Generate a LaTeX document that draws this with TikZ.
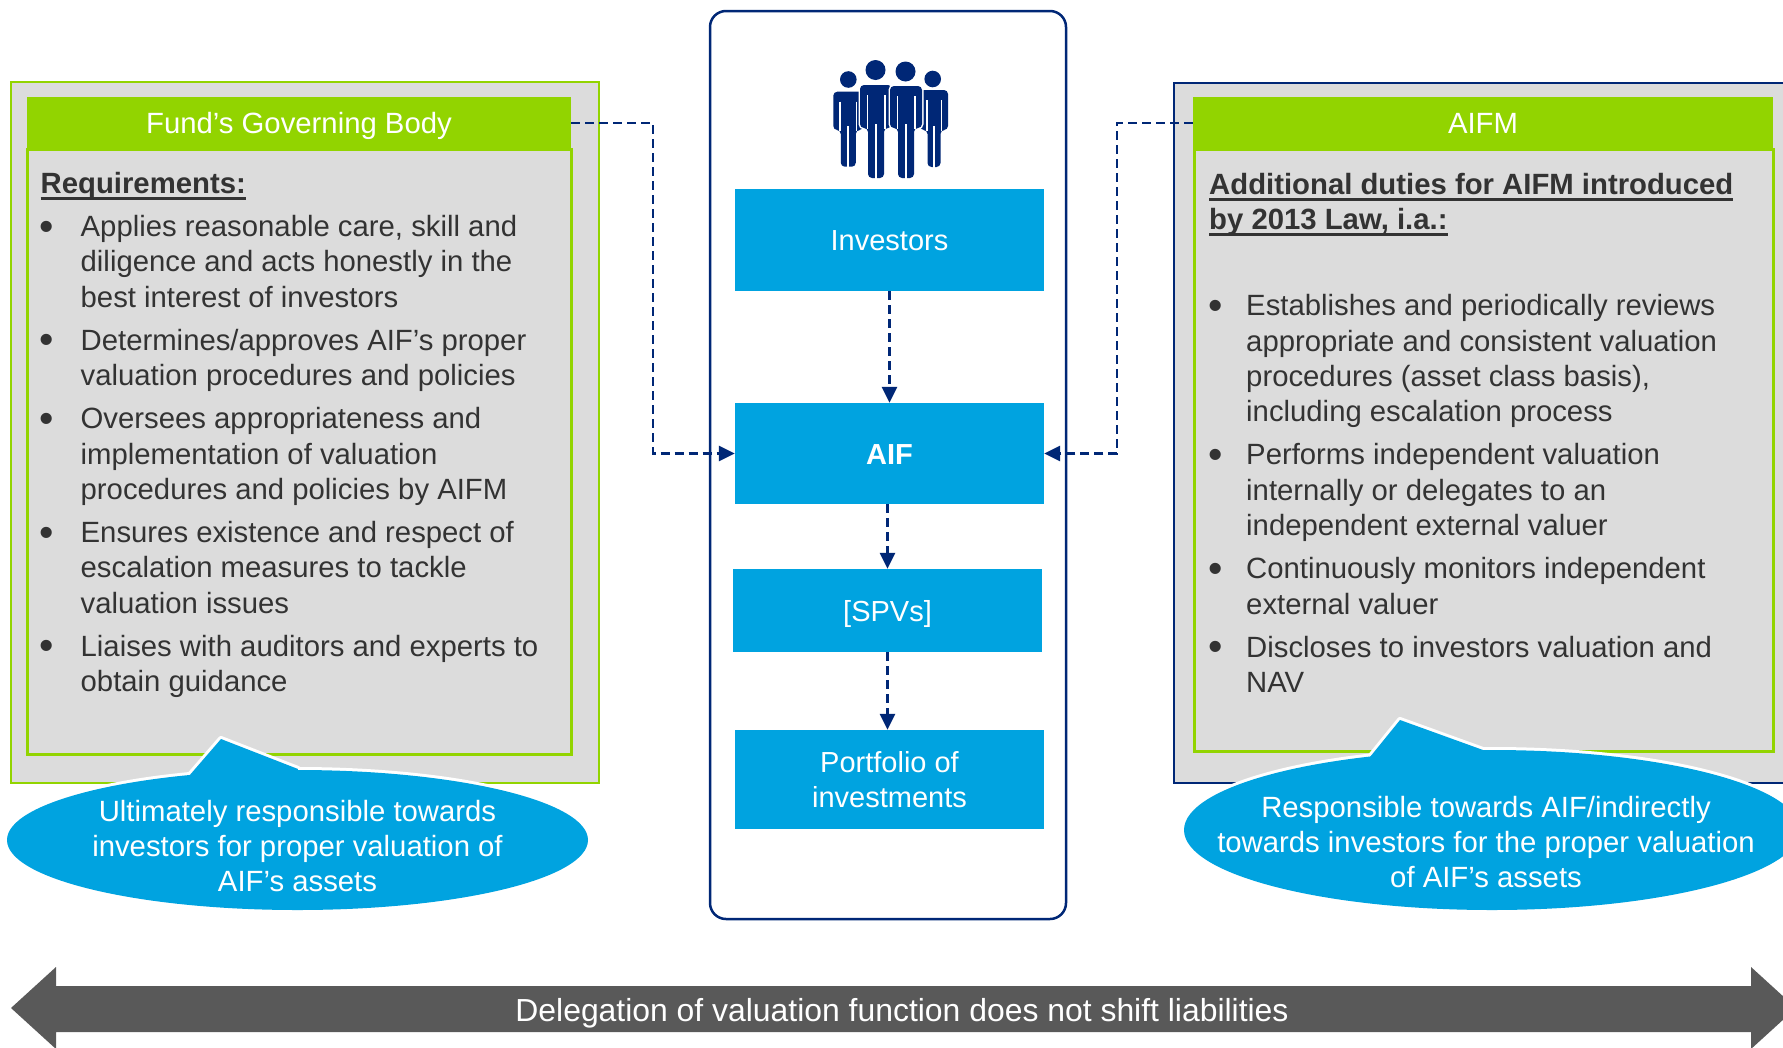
\documentclass[tikz,border=0pt]{standalone}
\usepackage{fontspec}
\setmainfont{Liberation Sans}
\usetikzlibrary{arrows.meta}
\definecolor{lgreen}{HTML}{92D400}
\definecolor{cblue}{HTML}{00A3E0}
\definecolor{navy}{HTML}{002776}
\definecolor{boxgrey}{HTML}{DCDCDC}
\definecolor{txtgrey}{HTML}{333333}
\definecolor{arrgrey}{HTML}{595959}
\newcommand\ulx[1]{\setbox0\hbox{#1}\rlap{\rule[-6pt]{\wd0}{2.6pt}}\box0}
\newcommand\bigbullet{\hspace*{-1pt}\raisebox{-3.5pt}{\scalebox{1.4}{\textbullet}}}
\newcommand\litem[1]{\par\hangindent=40pt\hangafter=1\noindent\makebox[40pt][l]{\bigbullet}#1\par}
\newcommand\ritem[1]{\par\hangindent=37pt\hangafter=1\noindent\makebox[37pt][l]{\bigbullet}#1\par}
\newcommand\personpath[7]{({#1-#3/2},{#6}) -- ({#1-#3/2},{#2}) -- ({#1+#3/2},{#2}) -- ({#1+#3/2},{#6}) -- ({#1+#3/2-#4-#5},{#6}) -- ({#1+#3/2-#4-#5},{#7}) -- ({#1-#3/2+#4+#5},{#7}) -- ({#1-#3/2+#4+#5},{#6}) -- cycle}
\newcommand\persongaps[7]{%
  \draw[white, line width=#5] ({#1-#3/2+#4+#5/2},{#2+10}) -- ({#1-#3/2+#4+#5/2},{#6+0.5});
  \draw[white, line width=#5] ({#1+#3/2-#4-#5/2},{#2+10}) -- ({#1+#3/2-#4-#5/2},{#6+0.5});
  \draw[white, line width=1.8] (#1,{#6-4}) -- (#1,{#7+0.5});}
\tikzset{
  bodytext/.style={anchor=base west, inner sep=0, text=txtgrey},
  header/.style={fill=lgreen, minimum height=52, inner sep=0, text=white,
    font=\fontsize{29.3}{35}\selectfont, text height=20.6pt, text depth=0pt},
  cboxbase/.style={fill=cblue, text=white, inner sep=0, minimum width=309,
    font=\fontsize{29}{35}\selectfont},
  cbox/.style={cboxbase, text height=21pt, text depth=0pt},
  conn/.style={navy, line width=2.6, dash pattern=on 9pt off 5pt,
    -{Triangle[length=16pt,width=15pt]}},
  callw/.style={white, line width=6, line join=round},
  callf/.style={fill=cblue},
  calltext/.style={anchor=base, inner sep=0, text=white},
}
\begin{document}
\begin{tikzpicture}[x=1pt,y=-1pt]
\useasboundingbox (0,0) rectangle (1783,1047);
\clip (0,0) rectangle (1783,1047);

% outer boxes
\draw[lgreen, line width=2, fill=boxgrey] (11,82) rectangle (599,783);
\draw[navy, line width=2.5, fill=boxgrey] (1174,83) rectangle (1810,783);
% inner boxes
\draw[lgreen, line width=3, fill=boxgrey] (27,149) rectangle (571,754);
\draw[lgreen, line width=3, fill=boxgrey] (1194,149) rectangle (1773,751);
% headers
\node[header, minimum width=544] (lhead) at (299,123) {Fund’s Governing Body};
\node[header, minimum width=580] (rhead) at (1483,123) {AIFM};

% centre frame
\draw[navy, line width=2.5, rounded corners=16, fill=white] (710,11) rectangle (1066,919);

% people icon
\fill[navy] (848.3,79.5) circle (8.3);
\fill[navy, rounded corners=4] \personpath{848.3}{91.7}{30}{6}{1.5}{130}{166.7};
\persongaps{848.3}{91.7}{30}{6}{1.5}{130}{166.7}
\fill[navy] (932.7,79) circle (8.3);
\fill[navy, rounded corners=4] \personpath{934}{90}{28}{6}{1.5}{130}{167};
\persongaps{934}{90}{28}{6}{1.5}{130}{167}
\draw[white, line width=3] (875.5,70) circle (10);
\draw[white, line width=3, rounded corners=4] \personpath{876}{85}{32}{6.5}{1.5}{128}{178};
\fill[navy] (875.5,70) circle (10);
\fill[navy, rounded corners=4] \personpath{876}{85}{32}{6.5}{1.5}{128}{178};
\persongaps{876}{85}{32}{6.5}{1.5}{128}{178}
\draw[white, line width=3] (905.5,71.5) circle (10);
\draw[white, line width=3, rounded corners=4] \personpath{906}{86}{32}{6.5}{1.5}{128}{178};
\fill[navy] (905.5,71.5) circle (10);
\fill[navy, rounded corners=4] \personpath{906}{86}{32}{6.5}{1.5}{128}{178};
\persongaps{906}{86}{32}{6.5}{1.5}{128}{178}

% centre boxes
\node[cbox, minimum height=102] (inv) at (889.5,240) {Investors};
\node[cbox, minimum height=101, font=\fontsize{29}{35}\selectfont\bfseries] (aif) at (889.5,453.5) {AIF};
\node[cbox, minimum height=83] (spv) at (887.5,610.5) {[SPVs]};
\node[cboxbase, minimum height=99, align=center] (port) at (889.5,779.5) {Portfolio of\\investments};

% connectors
\coordinate (lk) at (653,123);
\coordinate (rk) at (1117,123);
\draw[conn] (lhead.east) -- (lk) |- (aif.west);
\draw[conn] (rhead.west) -- (rk) |- (aif.east);
\draw[conn] (inv.south) -- (aif.north);
\draw[conn] (spv.north |- aif.south) -- (spv.north);
\draw[conn] (spv.south) -- (spv.south |- port.north);

% left text
\node[bodytext] (ltxt) at (40.5,193.5) {\begin{minipage}[t]{540pt}\fontsize{29.3}{35.4}\selectfont\setlength\parskip{7.6pt}%
\textbf{\ulx{Requirements:}}
\litem{Applies reasonable care, skill and\newline diligence and acts honestly in the\newline best interest of investors}
\litem{Determines/approves AIF’s proper\newline valuation procedures and policies}
\litem{Oversees appropriateness and\newline implementation of valuation\newline procedures and policies by AIFM}
\litem{Ensures existence and respect of\newline escalation measures to tackle\newline valuation issues}
\litem{Liaises with auditors and experts to\newline obtain guidance}
\end{minipage}};

% right text
\node[bodytext] (rtxt) at (1209,194.5) {\begin{minipage}[t]{560pt}\fontsize{29.3}{35.4}\selectfont\setlength\parskip{7.6pt}%
\textbf{\ulx{Additional duties for AIFM introduced}}\newline\textbf{\ulx{by 2013 Law, i.a.:}}\par\vspace{42.7pt}%
\ritem{Establishes and periodically reviews\newline appropriate and consistent valuation\newline procedures (asset class basis),\newline including escalation process}
\ritem{Performs independent valuation\newline internally or delegates to an\newline independent external valuer}
\ritem{Continuously monitors independent\newline external valuer}
\ritem{Discloses to investors valuation and\newline NAV}
\end{minipage}};

% callouts
\draw[callw] (297.5,840) ellipse [x radius=290.5, y radius=70];
\draw[callw] (221,739) -- (189,776) -- (200,815) -- (290,815) -- (298,769) -- cycle;
\draw[callw] (1492,830) ellipse [x radius=308, y radius=80];
\draw[callw] (1400,720) -- (1370,757) -- (1385,800) -- (1475,800) -- (1483,750) -- cycle;
\fill[callf] (297.5,840) ellipse [x radius=290.5, y radius=70];
\fill[callf] (221,739) -- (189,776) -- (200,815) -- (290,815) -- (298,769) -- cycle;
\fill[callf] (1492,830) ellipse [x radius=308, y radius=80];
\fill[callf] (1400,720) -- (1370,757) -- (1385,800) -- (1475,800) -- (1483,750) -- cycle;
\node[calltext] (lcall) at (297.5,821) {\begin{minipage}[t]{580pt}\centering\fontsize{29.3}{35}\selectfont Ultimately responsible towards\\investors for proper valuation of\\AIF’s assets\end{minipage}};
\node[calltext] (rcall) at (1486,817.5) {\begin{minipage}[t]{600pt}\centering\fontsize{29.3}{35}\selectfont Responsible towards AIF/indirectly\\towards investors for the proper valuation\\of AIF’s assets\end{minipage}};

% bottom double arrow
\fill[arrgrey] (11,1008) -- (56,967) -- (56,986) -- (1751,986) -- (1751,967) -- (1796,1008) -- (1751,1049) -- (1751,1032) -- (56,1032) -- (56,1049) -- cycle;
\node[anchor=base, inner sep=0, text=white, font=\fontsize{31.9}{36}\selectfont] (deleg) at (902,1021) {Delegation of valuation function does not shift liabilities};
\end{tikzpicture}
\end{document}
